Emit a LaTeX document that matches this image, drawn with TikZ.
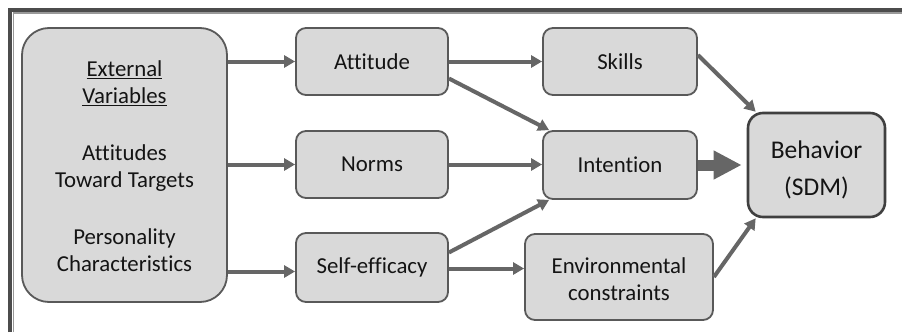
\documentclass[tikz,border=0pt]{standalone}
\usepackage{fontspec}
\setmainfont[Ligatures={NoCommon}]{Carlito}
\usetikzlibrary{arrows.meta,calc}
\definecolor{boxfill}{HTML}{D9D9D9}
\definecolor{boxline}{HTML}{595959}
\definecolor{arrowgray}{HTML}{666666}
\definecolor{textcol}{HTML}{141414}
\begin{document}
\begin{tikzpicture}[x=1pt,y=-1pt,
  box/.style={draw=boxline,fill=boxfill,line width=1.8pt,rounded corners=10pt,
    inner sep=0pt,align=center,text=textcol,
    font=\fontsize{22.8}{27}\selectfont},
  link/.style={draw=arrowgray,line width=4pt,
    -{Triangle[length=11pt,width=12pt]}},
  biglink/.style={draw=arrowgray,line width=11pt,
    -{Triangle[length=28pt,width=27pt]}}]
  \useasboundingbox (0,0) rectangle (902,332);
  \fill[white] (0,0) rectangle (902,332);
  % outer frame, cut off at right and bottom
  \draw[line width=3.5pt,color=black!70] (10,332) -- (10,9.8) -- (902,9.8);
  \draw[line width=1.6pt,color=black!40] (13.3,332) -- (13.3,13.2) -- (902,13.2);

  % source box
  \node[box,rounded corners=27pt,minimum width=205pt,minimum height=274pt]
    (ext) at (124.5,165)
    {\rule{0pt}{19pt}\underline{External}\\\underline{Variables}\\[30pt]
     Attitudes\\Toward Targets\\[30pt]
     Personality\\Characteristics};

  % middle column
  \node[box,minimum width=152pt,minimum height=67pt] (att) at (372,61.5) {Attitude};
  \node[box,minimum width=152pt,minimum height=67pt] (nor) at (372,164.5) {Norms};
  \node[box,minimum width=152pt,minimum height=69pt] (sef) at (372,267.5) {Self-efficacy};

  % right column
  \node[box,minimum width=154pt,minimum height=67pt] (ski) at (620,61.5) {Skills};
  \node[box,minimum width=154pt,minimum height=68pt] (int) at (620,165) {Intention};
  \node[box,minimum width=188pt,minimum height=86pt] (env) at (619,277)
    {\rule{0pt}{21pt}Environmental\\constraints};

  % outcome
  \node[box,line width=2.6pt,draw=black!75,rounded corners=15pt,
    minimum width=137pt,minimum height=104pt,
    font=\fontsize{25.5}{37}\selectfont] (beh) at (816.5,165)
    {\rule{0pt}{28pt}Behavior\\(SDM)};

  % connectors
  \draw[link] (ext.east |- att.west) -- (att.west);
  \draw[link] (ext.east |- nor.west) -- (nor.west);
  \draw[link] ([yshift=-4pt]ext.east |- sef.west) -- ([yshift=-4pt]sef.west);
  \draw[link] (att.east) -- (ski.west);
  \draw[link] ([yshift=-17pt]att.east) -- ([xshift=7pt]int.north west);
  \draw[link] (nor.east) -- (nor.east -| int.west);
  \draw[link] ([yshift=15pt]sef.east) -- ([xshift=7pt]int.south west);
  \draw[link] ([yshift=-1pt]sef.east) -- ([yshift=-1pt]sef.east -| env.west);
  \draw[link] ([yshift=6.5pt]ski.east) -- ([xshift=9pt]beh.north west);
  \draw[link] (env.east) -- ([xshift=9pt]beh.south west);
  \draw[biglink] (int.east) -- ([xshift=-5pt]beh.west);
\end{tikzpicture}
\end{document}
